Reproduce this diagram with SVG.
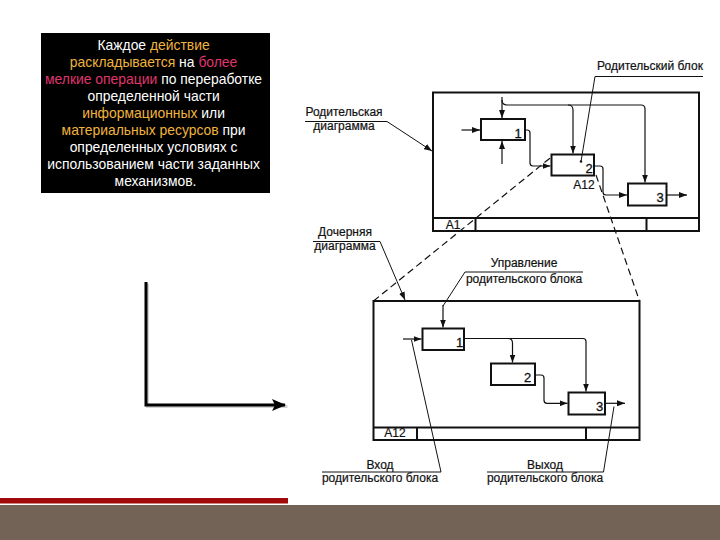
<svg xmlns="http://www.w3.org/2000/svg" width="720" height="540" viewBox="0 0 720 540">
<style>
.frame{fill:none;stroke:#111;stroke-width:2}
.blk{fill:#fff;stroke:#111;stroke-width:2}
.con{fill:none;stroke:#111;stroke-width:1.2}
.lead{fill:none;stroke:#111;stroke-width:1}
.dash{fill:none;stroke:#111;stroke-width:1.2;stroke-dasharray:7 4}
.lbl{font-family:"Liberation Sans",Arial,sans-serif;font-size:12px;fill:#111;stroke:#111;stroke-width:0.2}
.num{font-family:"Liberation Sans",Arial,sans-serif;font-size:13px;fill:#111;stroke:#111;stroke-width:0.3}
.box{font-family:"Liberation Sans",Arial,sans-serif;font-size:13.9px;fill:#fff}
.g{fill:#F0B43C}
.p{fill:#E0356F}
</style>
<defs>
<marker id="ah" viewBox="0 0 8 6" refX="8" refY="3" markerWidth="8" markerHeight="6" markerUnits="userSpaceOnUse" orient="auto">
<path d="M0,0 L8,3 L0,6 z" fill="#111"/>
</marker>
<marker id="bigah" viewBox="0 0 14 12" refX="13" refY="6" markerWidth="14" markerHeight="12" markerUnits="userSpaceOnUse" orient="auto">
<path d="M0,0 L14,6 L0,12 L3,6 z" fill="#000"/>
</marker>
</defs>
<rect width="720" height="540" fill="#fff"/>

<g id="textbox">
<rect x="41" y="33" width="229" height="160" fill="#000"/>
<text class="box" text-anchor="middle">
<tspan x="155.5" y="50">Каждое <tspan class="g">действие</tspan></tspan>
<tspan x="155.5" y="67"><tspan class="g">раскладывается</tspan> на <tspan class="p">более</tspan></tspan>
<tspan x="155.5" y="84"><tspan class="p">мелкие операции</tspan> по переработке</tspan>
<tspan x="155.5" y="101">определенной части</tspan>
<tspan x="155.5" y="118"><tspan class="g">информационных</tspan> или</tspan>
<tspan x="155.5" y="135"><tspan class="g">материальных ресурсов</tspan> при</tspan>
<tspan x="155.5" y="152">определенных условиях с</tspan>
<tspan x="155.5" y="169">использованием части заданных</tspan>
<tspan x="155.5" y="186">механизмов.</tspan>
</text>
</g>

<g id="axes">
<path d="M146,282 V405 H286" fill="none" stroke="#aaa" stroke-width="3" transform="translate(1.5,1.5)" opacity="0.5"/>
<path d="M146,282 V405 H285" fill="none" stroke="#000" stroke-width="3" marker-end="url(#bigah)"/>
</g>

<g id="parent-diagram">
<rect class="frame" x="433" y="92.5" width="266" height="138.5"/>
<line class="frame" x1="433" y1="218" x2="699" y2="218"/>
<line class="frame" x1="475.5" y1="218" x2="475.5" y2="231"/>
<line class="frame" x1="646.5" y1="218" x2="646.5" y2="231"/>
<text class="lbl" x="453" y="229" text-anchor="middle" font-size="12.5">A1</text>
</g>
<g id="p-block1">
<rect class="blk" x="481" y="119" width="44" height="21"/>
<text class="num" x="518" y="137.5" text-anchor="middle">1</text>
</g>
<g id="p-block2">
<rect class="blk" x="551.5" y="154.5" width="42.5" height="21"/>
<text class="num" x="589" y="172.5" text-anchor="middle">2</text>
<text class="lbl" x="584" y="188.5" text-anchor="middle" font-size="12.5">A12</text>
</g>
<g id="p-block3">
<rect class="blk" x="628" y="183.5" width="38.5" height="22"/>
<text class="num" x="660" y="202" text-anchor="middle">3</text>
</g>

<g id="child-diagram">
<rect class="frame" x="373.5" y="301" width="266" height="139"/>
<line class="frame" x1="373.5" y1="427.5" x2="639.5" y2="427.5"/>
<line class="frame" x1="417" y1="427.5" x2="417" y2="440"/>
<line class="frame" x1="586" y1="427.5" x2="586" y2="440"/>
<text class="lbl" x="395" y="437" text-anchor="middle" font-size="12.5">A12</text>
</g>
<g id="c-block1">
<rect class="blk" x="422.5" y="328.5" width="41.5" height="21.5"/>
<text class="num" x="459.5" y="347" text-anchor="middle">1</text>
</g>
<g id="c-block2">
<rect class="blk" x="491" y="363.5" width="44" height="21.5"/>
<text class="num" x="527.5" y="381.5" text-anchor="middle">2</text>
</g>
<g id="c-block3">
<rect class="blk" x="568.5" y="392.5" width="36.5" height="22"/>
<text class="num" x="599.5" y="411" text-anchor="middle">3</text>
</g>

<g id="labels">
<text class="lbl" x="650" y="70" text-anchor="middle">Родительский блок</text>
<text class="lbl" x="344" y="116" text-anchor="middle">Родительская</text>
<text class="lbl" x="344" y="130" text-anchor="middle">диаграмма</text>
<text class="lbl" x="345" y="236" text-anchor="middle">Дочерняя</text>
<text class="lbl" x="345" y="250" text-anchor="middle">диаграмма</text>
<text class="lbl" x="524" y="267" text-anchor="middle">Управление</text>
<text class="lbl" x="524" y="283" text-anchor="middle">родительского блока</text>
<text class="lbl" x="380" y="468.5" text-anchor="middle">Вход</text>
<text class="lbl" x="380" y="482" text-anchor="middle">родительского блока</text>
<text class="lbl" x="545" y="468.5" text-anchor="middle">Выход</text>
<text class="lbl" x="545" y="482" text-anchor="middle">родительского блока</text>
</g>

<g id="connectors">
<path class="con" d="M461.5,130 H480" marker-end="url(#ah)"/>
<path class="con" d="M502,97 V118" marker-end="url(#ah)"/>
<path class="con" d="M502,100 Q502,105 507,105 H641 Q645,105 645,109 V182.5" marker-end="url(#ah)"/>
<path class="con" d="M568,105 Q573,105 573,110 V153.5" marker-end="url(#ah)"/>
<path class="con" d="M502,164 V141" marker-end="url(#ah)"/>
<path class="con" d="M525,130 H527 Q530,130 530,133 V163 Q530,166 533,166 H550.5" marker-end="url(#ah)"/>
<path class="con" d="M594,166 H600 Q603,166 603,169 V192 Q603,195 606,195 H627" marker-end="url(#ah)"/>
<path class="con" d="M666.5,195 H687" marker-end="url(#ah)"/>

<path class="con" d="M403,339 H421.5" marker-end="url(#ah)"/>
<path class="con" d="M443,305 V327.5" marker-end="url(#ah)"/>
<path class="con" d="M464,338.5 H583 Q586,338.5 586,341.5 V391.5" marker-end="url(#ah)"/>
<path class="con" d="M508,338.5 Q512.5,338.5 512.5,343 V362.5" marker-end="url(#ah)"/>
<path class="con" d="M535,375 H541 Q544,375 544,378 V400.3 Q544,403.3 547,403.3 H567.5" marker-end="url(#ah)"/>
<path class="con" d="M605,403.3 H625" marker-end="url(#ah)"/>

<path class="dash" d="M373.5,301 L552,156.5"/>
<path class="dash" d="M596,175 L639.5,301"/>

<path class="lead" d="M703,76.5 H595 L581,161.5"/>
<circle cx="581" cy="161.5" r="1.2" fill="#111"/>
<path class="lead" d="M305,121.5 H387 L432,151" marker-end="url(#ah)"/>
<path class="lead" d="M313,241.5 H380 L405,300" marker-end="url(#ah)"/>
<path class="lead" d="M583,272 H465 L443,306"/>
<path class="lead" d="M322,472 H441 L411.5,340"/>
<path class="lead" d="M487,472 H603.5 L614,406.5"/>
</g>

<g id="footer">
<rect x="0" y="498" width="288" height="5.5" fill="#A00A0A"/>
<rect x="0" y="505" width="720" height="35" fill="#736357"/>
</g>
</svg>
